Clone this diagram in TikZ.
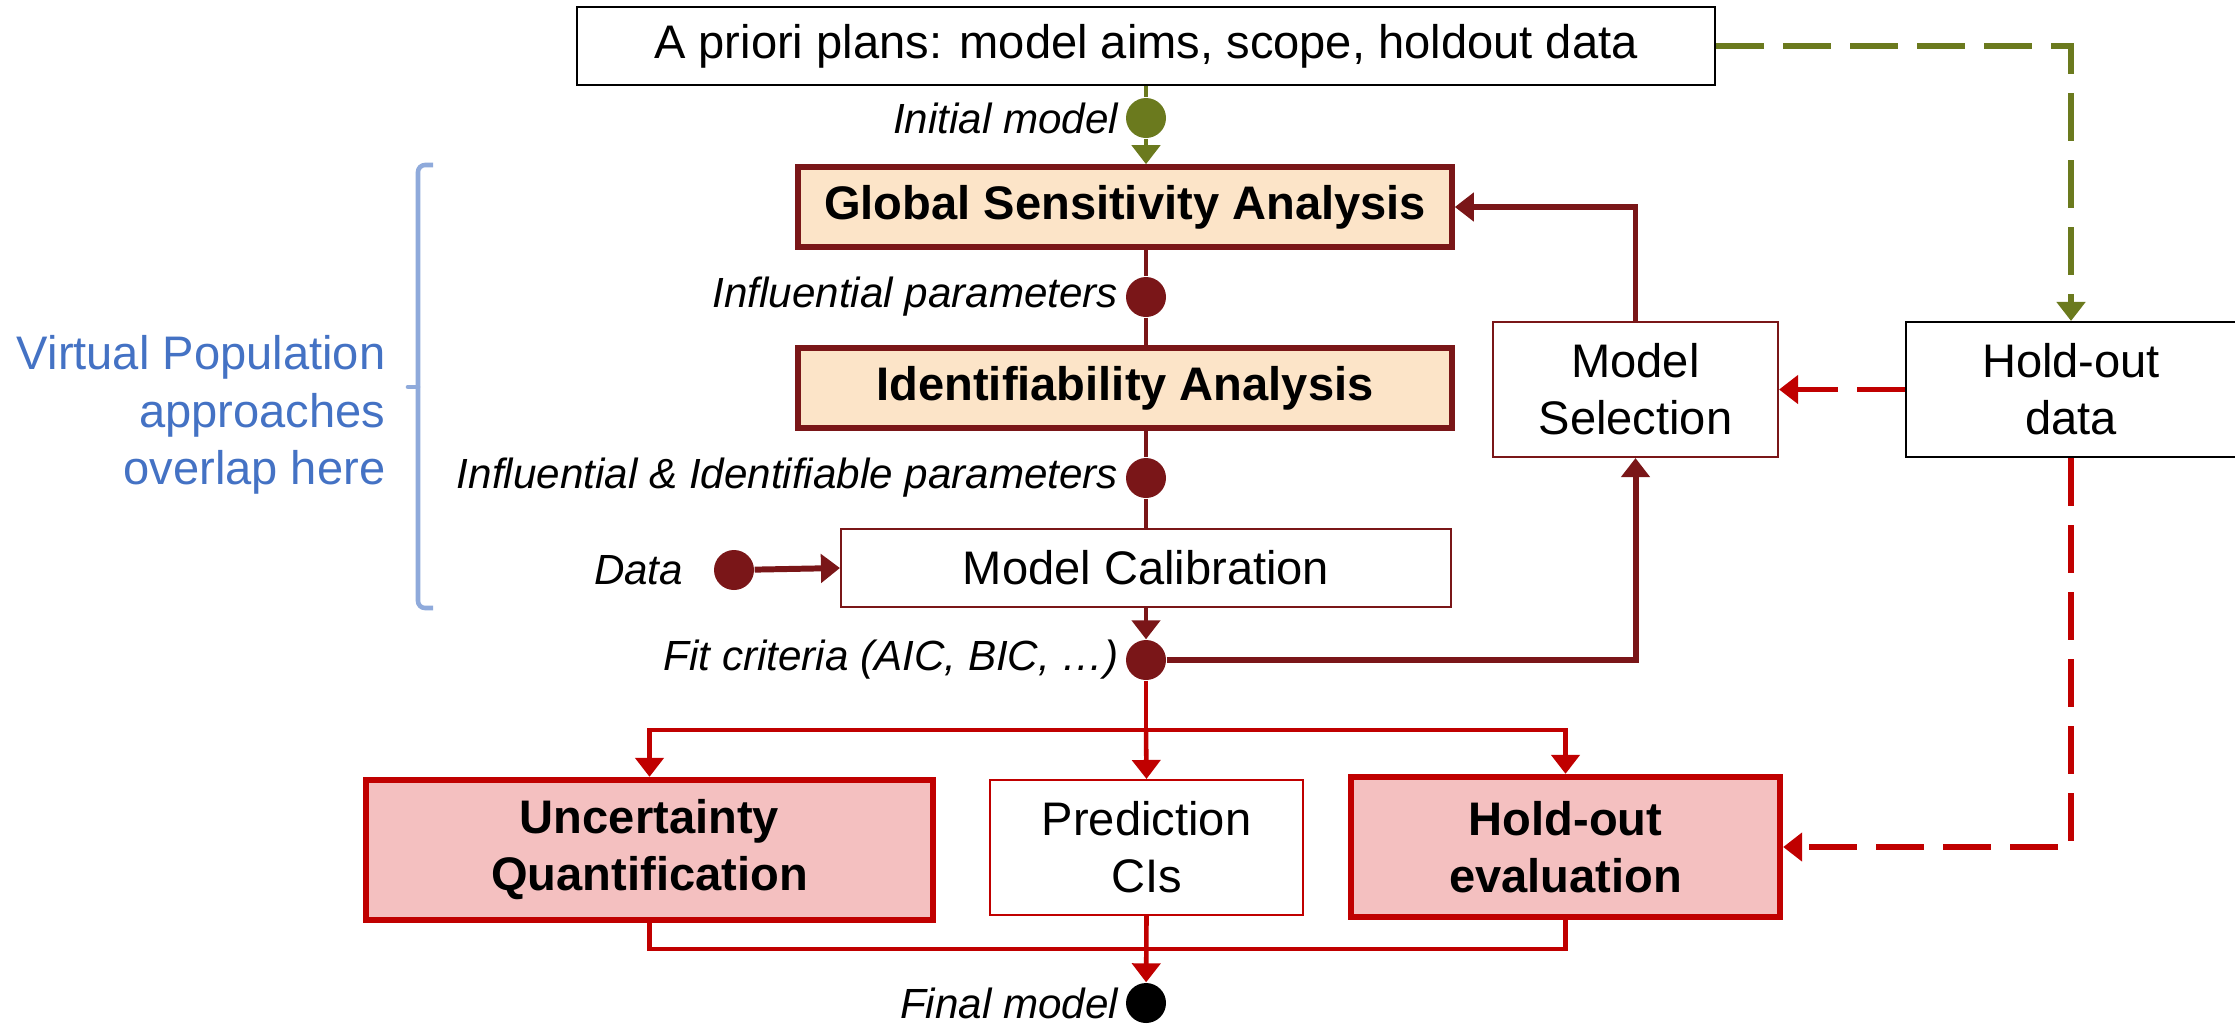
\documentclass[tikz,border=0pt]{standalone}
\usepackage{fontspec}
\setmainfont{Liberation Sans}
\usetikzlibrary{arrows.meta, positioning, calc}

\definecolor{darkred}{RGB}{122,22,24}
\definecolor{brightred}{RGB}{192,0,0}
\definecolor{leafgreen}{RGB}{107,122,30}
\definecolor{peach}{RGB}{252,228,200}
\definecolor{rose}{RGB}{244,192,192}
\definecolor{vpblue}{RGB}{68,114,196}
\definecolor{bracketblue}{RGB}{143,170,219}

\newcommand\boxfont{\fontsize{13.4}{16.2}\selectfont}
\newcommand\labelfont{\fontsize{12}{14.4}\selectfont}

\begin{document}
\begin{tikzpicture}[
    every node/.style={font=\boxfont},
    plainbox/.style={
        draw=black,
        line width=0.6pt,
        fill=white,
        inner sep=0pt,
        align=center
    },
    keybox/.style={
        draw=darkred,
        line width=1.6pt,
        fill=peach,
        inner sep=0pt,
        font=\boxfont\bfseries
    },
    thinbox/.style={
        draw=darkred,
        line width=0.6pt,
        fill=white,
        inner sep=0pt,
        align=center
    },
    redbox/.style={
        draw=brightred,
        line width=0.6pt,
        fill=white,
        inner sep=0pt,
        align=center
    },
    evalbox/.style={
        draw=brightred,
        line width=1.8pt,
        fill=rose,
        inner sep=0pt,
        align=center,
        font=\boxfont\bfseries
    },
    blob/.style={circle, fill=#1, minimum size=0.4cm, inner sep=0pt},
    lbl/.style={font=\labelfont\itshape, inner sep=1pt},
    link/.style={line width=1.3pt, draw=#1},
    dashlink/.style={line width=1.6pt, draw=#1, dash pattern=on 0.48cm off 0.19cm},
    arrow/.style={-{Triangle[length=0.19cm, width=0.28cm]}}
]

\useasboundingbox (0,0) rectangle (22.35,-10.24);

% main column
\node[plainbox, minimum width=11.38cm, minimum height=0.78cm] (plans) at (11.46,-0.46)
{A priori plans: model aims, scope, holdout data};

\node[blob=leafgreen] (initdot) at (11.46,-1.18) {};
\node[lbl, left=0.03cm of initdot] (initlbl) {Initial model};

\node[keybox, minimum width=6.54cm, minimum height=0.80cm] (gsa) at (11.25,-2.07)
{Global Sensitivity Analysis};

\node[blob=darkred] (infdot) at (11.46,-2.97) {};
\node[lbl, left=0.03cm of infdot] (inflbl) {Influential parameters};

\node[keybox, minimum width=6.54cm, minimum height=0.80cm] (ia) at (11.25,-3.88)
{Identifiability Analysis};

\node[blob=darkred] (iidot) at (11.46,-4.78) {};
\node[lbl, left=0.03cm of iidot] (iilbl) {Influential \& Identifiable parameters};

\node[thinbox, minimum width=6.10cm, minimum height=0.78cm] (mc) at (11.46,-5.68)
{Model Calibration};

\node[blob=darkred] (datadot) at (7.34,-5.70) {};
\node[lbl, left=0.26cm of datadot] (datalbl) {Data};

\node[blob=darkred] (fitdot) at (11.46,-6.60) {};
\node[lbl, left=0.03cm of fitdot] (fitlbl) {Fit criteria (AIC, BIC, …)};

% right side
\node[thinbox, minimum width=2.85cm, minimum height=1.35cm] (ms) at (16.355,-3.895)
{Model\\Selection};
\node[plainbox, minimum width=3.30cm, minimum height=1.35cm] (hod) at (20.71,-3.895)
{Hold-out\\data};

% bottom row
\node[evalbox, minimum width=5.67cm, minimum height=1.40cm] (uq) at (6.495,-8.50)
{Uncertainty\\Quantification};
\node[redbox, minimum width=3.13cm, minimum height=1.35cm] (pci) at (11.465,-8.475)
{Prediction\\CIs};
\node[evalbox, minimum width=4.29cm, minimum height=1.40cm] (he) at (15.655,-8.47)
{Hold-out\\evaluation};

\node[blob=black] (finaldot) at (11.46,-10.03) {};
\node[lbl, left=0.03cm of finaldot] (finallbl) {Final model};

% virtual population note
\node[font=\fontsize{13.4}{16.3}\selectfont, text=vpblue, align=right, anchor=east, inner sep=0pt] (vplbl)
at (3.86,-4.15) {Virtual Population\\approaches\\overlap here};
\draw[bracketblue, line width=1.3pt, rounded corners=2pt]
    (4.33,-1.65) -- (4.18,-1.65) -- (4.18,-6.08) -- (4.33,-6.08);
\draw[bracketblue, line width=1.3pt, line cap=round] (4.18,-3.87) -- (4.08,-3.87);

% connectors
\draw[link=leafgreen] (plans.south) -- (initdot);
\draw[link=leafgreen, arrow] (initdot) -- (initdot |- gsa.north);
\draw[link=darkred] (gsa.south -| infdot) -- (infdot) -- (ia.north -| infdot);
\draw[link=darkred] (ia.south -| iidot) -- (iidot) -- (mc.north);
\draw[link=darkred, arrow] (mc.south) -- (fitdot);
\draw[link=darkred, line width=1.7pt, arrow] (datadot) -- (mc.west);
\draw[link=darkred, line width=1.7pt, arrow] (fitdot) -| (ms.south);
\draw[link=darkred, line width=1.5pt, arrow] (ms.north) |- (gsa.east);

\draw[dashlink=leafgreen, arrow] (plans.east) -| (hod.north);
\draw[dashlink=brightred, arrow] (hod.west) -- (ms.east);
\draw[dashlink=brightred, arrow] (hod.south) |- (he.east);

\coordinate (split) at (11.46,-7.30);
\coordinate (join) at (11.46,-9.49);
\draw[link=brightred] (fitdot) -- (split);
\draw[link=brightred, arrow] (split) -| (uq.north);
\draw[link=brightred, arrow] (split) -| (he.north);
\draw[link=brightred, arrow] (split) -- (pci.north);
\draw[link=brightred] (uq.south) |- (join) -| (he.south);
\draw[link=brightred, arrow] (pci.south) -- (finaldot);

\end{tikzpicture}
\end{document}
